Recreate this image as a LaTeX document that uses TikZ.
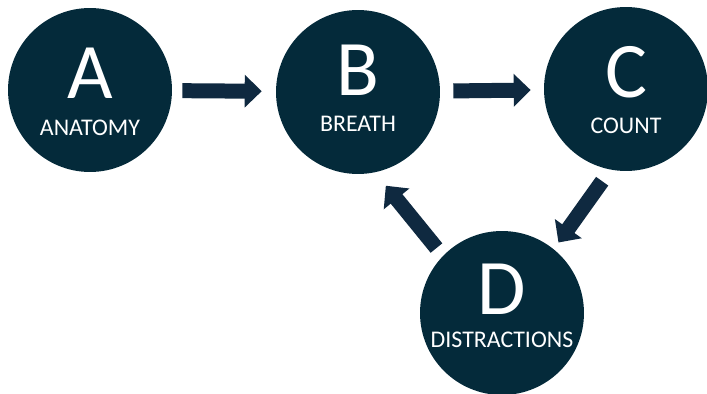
\documentclass[tikz,border=0pt]{standalone}
\usepackage{fontspec}
\setmainfont{Carlito}
\usetikzlibrary{calc, arrows.meta}

\definecolor{stepfill}{HTML}{042A3A}
\definecolor{flowcol}{HTML}{0F2940}

\begin{document}
\begin{tikzpicture}[
    x=0.02cm, y=-0.02cm,
    stage/.style={
        circle,
        fill=stepfill,
        minimum size=3.28cm,
        inner sep=0pt
    },
    letter/.style={
        text=white,
        font=\fontsize{44.8}{44.8}\selectfont,
        inner sep=0pt
    },
    caption/.style={
        text=white,
        font=\fontsize{13.6}{13.6}\selectfont,
        inner sep=0pt
    },
    flow/.style={
        -{Triangle[length=0.34cm, width=0.64cm]},
        line width=0.3cm,
        draw=flowcol
    }
]
\useasboundingbox (0,0) rectangle (707,394);

% Circles
\node[stage] (a) at (90,90) {};
\node[stage] (b) at (358,92) {};
\node[stage] (c) at (626,89) {};
\node[stage] (d) at (502,313) {};

% Letters and captions
\node[letter]  (la) at ($(a)+(0,-17)$) {A};
\node[caption] (ca) at ($(a)+(0,38)$)  {ANATOMY};
\node[letter]  (lb) at ($(b)+(0,-22)$) {B};
\node[caption] (cb) at ($(b)+(0,32)$)  {BREATH};
\node[letter]  (lc) at ($(c)+(0,-17)$) {C};
\node[caption] (cc) at ($(c)+(0,37)$)  {COUNT};
\node[letter]  (ld) at ($(d)+(0,-24)$) {D};
\node[caption] (cd) at ($(d)+(0,27)$)  {DISTRACTIONS};

% Arrows
\draw[flow, shorten <=0.2cm, shorten >=0.28cm] (a) -- (b);
\draw[flow, shorten <=0.26cm, shorten >=0.26cm] (b) -- (c);
\draw[flow, shorten <=0.28cm, shorten >=0.16cm] (c.259) -- (d.51);
\draw[flow, shorten <=0.2cm, shorten >=0.34cm] (d.136) -- (b.282);

\end{tikzpicture}
\end{document}
